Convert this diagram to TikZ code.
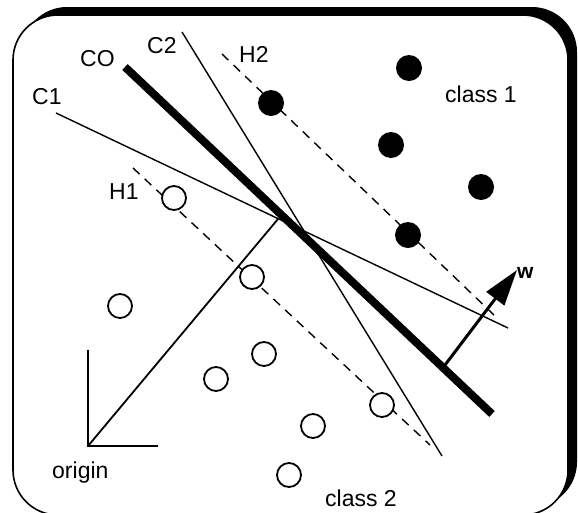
\documentclass[tikz,border=0pt]{standalone}
\usepackage{fontspec}
\setmainfont{Liberation Sans}
\usetikzlibrary{arrows.meta}
\begin{document}
\begin{tikzpicture}[x=1pt,y=-1pt,
  thinline/.style={line width=1.4pt},
  dashline/.style={line width=1.4pt, dash pattern=on 9pt off 7pt},
  axisline/.style={line width=1.8pt},
  fdot/.style={circle, fill=black, draw=none, minimum size=26pt, inner sep=0pt},
  odot/.style={circle, fill=white, draw=black, line width=1.8pt, minimum size=24pt, inner sep=0pt},
  lbl/.style={anchor=base west, inner sep=0pt, font=\fontsize{23}{27}\selectfont}
]
\useasboundingbox (0,0) rectangle (578,512);
% frame with shadow
\fill[black, rounded corners=45pt] (22,7) rectangle (577,507);
\filldraw[fill=white, draw=black, line width=1.6pt, rounded corners=45pt] (13,15) rectangle (568,515);

% coordinates
\coordinate (c1a) at (56,113);
\coordinate (c1b) at (508,328);
\coordinate (c2a) at (182,32);
\coordinate (c2b) at (442,456);
\coordinate (coa) at (125,67);
\coordinate (cob) at (492,414);
\coordinate (h2a) at (222,54);
\coordinate (h2b) at (495,316);
\coordinate (h1a) at (133,168);
\coordinate (h1b) at (430,445);
\coordinate (orig) at (88,446);
\coordinate (yax) at (88,350);
\coordinate (xax) at (158,446);
\coordinate (foot) at (278,219);
\coordinate (wbase) at (445,365);
\coordinate (wtip) at (517,270);

% lines
\draw[dashline] (h2a) -- (h2b);
\draw[dashline] (h1a) -- (h1b);
\draw[thinline] (c1a) -- (c1b);
\draw[thinline] (c2a) -- (c2b);
\draw[axisline] (yax) -- (orig) -- (xax);
\draw[axisline] (orig) -- (foot);
\draw[line width=8pt] (coa) -- (cob);
\draw[line width=3pt, -{Triangle[length=36pt,width=22pt]}] (wbase) -- (wtip);

% class 1
\node[fdot] (p1) at (409,68) {};
\node[fdot] (p2) at (271,103) {};
\node[fdot] (p3) at (391,145) {};
\node[fdot] (p4) at (481,187) {};
\node[fdot] (p5) at (408,235) {};

% class 2
\node[odot] (q1) at (174,198) {};
\node[odot] (q2) at (120,306) {};
\node[odot] (q3) at (252,277) {};
\node[odot] (q4) at (264,354) {};
\node[odot] (q5) at (216,379) {};
\node[odot] (q6) at (382,405) {};
\node[odot] (q7) at (313,426) {};
\node[odot] (q8) at (289,475) {};

% labels
\node[lbl] (lco) at (80,66) {CO};
\node[lbl] (lc2) at (147,53) {C2};
\node[lbl] (lh2) at (239,62) {H2};
\node[lbl] (lc1) at (32,104) {C1};
\node[lbl] (lh1) at (109,199) {H1};
\node[lbl] (lcl1) at (445,102) {class 1};
\node[lbl] (lorig) at (52,478) {origin};
\node[lbl] (lcl2) at (325,506) {class 2};
\node[anchor=base west, inner sep=0pt, font=\fontsize{21}{25}\selectfont\bfseries] (lw) at (517,278) {w};
\end{tikzpicture}
\end{document}
